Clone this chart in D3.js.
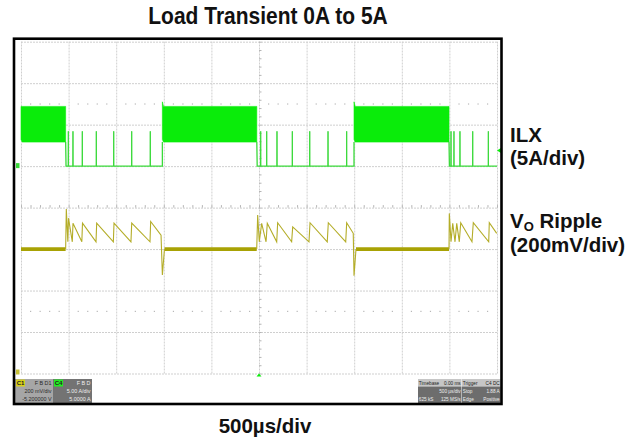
<!DOCTYPE html>
<html><head><meta charset="utf-8">
<script src="https://cdn.jsdelivr.net/npm/d3@7"></script>
<style>
body{margin:0;background:#fff}
svg{display:block}
text{font-family:"Liberation Sans",Arial,Helvetica,sans-serif}
</style>
</head><body>
<svg id="chart" width="641" height="443"></svg>
<script>
// ---------------- DATA ----------------
const titleText = "Load Transient 0A to 5A";
const xAxisLabel = "500µs/div";
const ilxLabel = ["ILX", "(5A/div)"];
const voLabel = ["V", "O", " Ripple", "(200mV/div)"];

const timePerDiv = 500;      // µs per division
const divsX = 10, divsY = 8;
const ampPerDiv = 5;         // A per division (C4, ILX)
const ampTop = 15;           // A at top graticule line
const mvPerDiv = 200;        // mV per division (C1, Vo ripple, AC view)
const mvTop = 1000;          // mV at top graticule line

// ILX: heavy-load (5 A) intervals, µs
const ilxHighStart = [0, 1485, 3498];
const ilxHighEnd   = [469, 2477, 4496];
const ilxHighUpper = [7.2, 7.2, 7.2];    // A, top of ripple band
const ilxHighLower = [2.9, 2.9, 2.9];    // A, bottom of ripple band
const ilxEdgeOvershoot = [7.2, 7.75, 7.75]; // A at start of band
// ILX: light-load (0 A) intervals and their switching pulses
const ilxLowStart = [469, 2477, 4496];
const ilxLowEnd   = [1485, 3498, 5000];
const ilxSpikeTimes = [497, 546, 644, 791, 974, 1163, 1358,
                       2518, 2581, 2689, 2850, 3033, 3225, 3421,
                       4517, 4548, 4611, 4745, 4909];
const ilxSpikePeaks = [4.2, 4.2, 4.2, 4.2, 4.2, 4.2, 4.2,
                       4.2, 4.2, 4.2, 4.2, 4.2, 4.2, 4.2,
                       4.2, 4.2, 4.2, 4.2, 4.2];

// Vo ripple: flat (heavy load) segments, µs
const voFlatStart = [0, 1507, 3519];
const voFlatEnd   = [469, 2476, 4496];
// Vo ripple during light load: [µs, mV]
const voLight1 = [[469,0],[476,193],[492,35],[499,149],[539,35],[546,125],[639,35],[646,125],
  [788,35],[795,125],[970,35],[977,125],[1155,35],[1163,125],[1355,35],[1362,133],
  [1471,67],[1485,-125],[1507,0]];
const voLight2 = [[2476,0],[2486,164],[2503,35],[2528,124],[2574,35],[2587,124],[2686,35],[2696,127],
  [2843,35],[2854,107],[3025,35],[3036,127],[3217,35],[3228,127],[3411,35],[3421,127],
  [3490,76],[3498,-129],[3519,0]];
const voLight3 = [[4496,0],[4499,172],[4517,35],[4535,124],[4559,35],[4577,124],[4604,35],[4619,127],
  [4737,35],[4751,127],[4913,35],[4919,127],[4997,76]];

// Scope readout texts
const c1Box = ["C1", "F B D1", "200 mV/div", "-5.200000 V"];
const c4Box = ["C4", "F B D", "5.00 A/div", "5.0000 A"];
const tbBox = ["Timebase", "0.00 ms", "", "500 µs/div", "625 kS", "125 MS/s"];
const trBox = ["Trigger", "C4 DC", "Stop", "1.88 A", "Edge", "Positive"];
const triggerLevel = 1.88;   // A

// ---------------- DRAW ----------------
const svg = d3.select("#chart");
const gx0 = 21, gx1 = 497, gy0 = 41.7, gy1 = 373.5;

const x = d3.scaleLinear().domain([0, divsX * timePerDiv]).range([gx0, gx1]);
const yI = d3.scaleLinear().domain([ampTop - divsY * ampPerDiv, ampTop]).range([gy1, gy0]);
const yV = d3.scaleLinear().domain([mvTop - divsY * mvPerDiv, mvTop]).range([gy1, gy0]);

const GREEN = "#0aec0a", GREEN_T = "#3ada3a";
const YEL = "#a8a204", YEL_T = "#b4ad28";

// Title
svg.append("text").attr("x", 268).attr("y", 24).attr("text-anchor", "middle")
  .attr("font-size", 21).attr("font-weight", "bold").attr("fill", "#111")
  .attr("transform", "translate(0,24) scale(1,1.12) translate(0,-24)")
  .text(titleText);

// Graticule
const grid = svg.append("g");
grid.append("g").attr("transform", `translate(0,${gy1})`)
  .call(d3.axisBottom(x).tickValues(d3.range(0, divsX * timePerDiv + 1, timePerDiv))
    .tickSize(-(gy1 - gy0)).tickFormat(""));
grid.append("g").attr("transform", `translate(${gx0},0)`)
  .call(d3.axisLeft(yI).tickValues(d3.range(ampTop - divsY * ampPerDiv, ampTop + 1, ampPerDiv))
    .tickSize(-(gx1 - gx0)).tickFormat(""));
grid.selectAll(".domain").remove();
grid.selectAll("line").attr("stroke", "#cfcfcf").attr("stroke-width", 1)
  .attr("stroke-dasharray", "2,1");

// center-line minor ticks
const yCenter = yI(ampTop - divsY * ampPerDiv / 2);
const xCenter = x(divsX * timePerDiv / 2);
const ct = svg.append("g");
ct.append("g").attr("transform", `translate(0,${yCenter})`)
  .call(d3.axisTop(x).tickValues(d3.range(0, divsX * timePerDiv + 1, timePerDiv / 5)).tickSize(2.5).tickFormat(""));
ct.append("g").attr("transform", `translate(${xCenter},0)`)
  .call(d3.axisRight(yI).tickValues(d3.range(ampTop - divsY * ampPerDiv, ampTop + 0.1, ampPerDiv / 5)).tickSize(2.5).tickFormat(""));
ct.selectAll(".domain").remove();
ct.selectAll("line").attr("stroke", "#b5b5b5");

// dotted rows
const dotLevels = [ampTop - 1.5 * ampPerDiv, ampTop - 6.5 * ampPerDiv];
const dotTimes = d3.range(0, divsX * timePerDiv, timePerDiv / 5).filter(t => t % timePerDiv !== 0);
dotLevels.forEach(a => {
  svg.append("g").selectAll("rect").data(dotTimes).join("rect")
    .attr("x", d => x(d) - 0.5).attr("y", yI(a) - 0.5).attr("width", 1.2).attr("height", 1.2)
    .attr("fill", "#b8b8b8");
});

// ILX trace: heavy-load bands
const lineI = d3.line().x(d => x(d[0])).y(d => yI(d[1]));
ilxHighStart.forEach((s, i) => {
  const e = ilxHighEnd[i];
  const poly = [[s, ilxEdgeOvershoot[i]], [s + 12, ilxHighUpper[i]], [e, ilxHighUpper[i]],
                [e, ilxHighLower[i]], [s + 12, ilxHighLower[i]], [s, ilxHighLower[i] + 0.3]];
  svg.append("path").attr("d", lineI(poly) + "Z").attr("fill", GREEN).attr("stroke", GREEN).attr("stroke-width", 0.6);
});
// ILX light-load baseline + edges
ilxLowStart.forEach((s, i) => {
  const e = ilxLowEnd[i];
  const pts = [[s, ilxHighLower[i]], [s + 4, 0], [e, 0]];
  if (i < ilxHighStart.length - 1) pts.push([e, ilxHighLower[i + 1]]);
  svg.append("path").attr("d", lineI(pts)).attr("fill", "none").attr("stroke", GREEN_T).attr("stroke-width", 1.3);
});
// switching pulses
svg.append("g").selectAll("path").data(ilxSpikeTimes).join("path")
  .attr("d", (t, i) => lineI([[t - 2, 0], [t, ilxSpikePeaks[i]], [t + 2, 0]]))
  .attr("fill", "none").attr("stroke", GREEN_T).attr("stroke-width", 1);

// Vo trace
const lineV = d3.line().x(d => x(d[0])).y(d => yV(d[1]));
voFlatStart.forEach((s, i) => {
  svg.append("path").attr("d", lineV([[s, 0], [voFlatEnd[i], 0]]))
    .attr("stroke", YEL).attr("stroke-width", 3.6).attr("fill", "none");
});
[voLight1, voLight2, voLight3].forEach(seg => {
  svg.append("path").attr("d", lineV(seg)).attr("fill", "none")
    .attr("stroke", YEL_T).attr("stroke-width", 1.1).attr("stroke-linejoin", "miter");
});

// channel markers
svg.append("rect").attr("x", 16).attr("y", yI(0) - 3).attr("width", 3.5).attr("height", 5).attr("fill", GREEN_T);
svg.append("rect").attr("x", 16).attr("y", gy1 - 4).attr("width", 3.5).attr("height", 5).attr("fill", "#c8c23a");
svg.append("path").attr("d", `M${gx1 + 4},${yI(triggerLevel) - 2.5}L${gx1},${yI(triggerLevel)}L${gx1 + 4},${yI(triggerLevel) + 2.5}Z`).attr("fill", GREEN);
svg.append("path").attr("d", `M${xCenter - 2.5},${gy1 + 3}L${xCenter},${gy1}L${xCenter + 2.5},${gy1 + 3}Z`).attr("fill", GREEN);

// readout boxes
function box(x0, w, fill, tag, tagFill, lines, txtFill) {
  const g = svg.append("g");
  g.append("rect").attr("x", x0).attr("y", 379).attr("width", w).attr("height", 24).attr("fill", fill);
  g.append("rect").attr("x", x0 + 1).attr("y", 379.5).attr("width", 9).attr("height", 7).attr("fill", tagFill);
  g.append("text").attr("x", x0 + 5.5).attr("y", 385.3).attr("text-anchor", "middle").attr("font-size", 6).attr("font-weight", "bold").attr("fill", "#222").text(tag);
  g.append("text").attr("x", x0 + w - 1.5).attr("y", 385.3).attr("text-anchor", "end").attr("font-size", 5.4).attr("fill", txtFill).text(lines[0]);
  g.append("text").attr("x", x0 + w - 1.5).attr("y", 393).attr("text-anchor", "end").attr("font-size", 5.4).attr("fill", txtFill).text(lines[1]);
  g.append("text").attr("x", x0 + w - 1.5).attr("y", 400.5).attr("text-anchor", "end").attr("font-size", 5.4).attr("fill", txtFill).text(lines[2]);
}
box(15, 38, "#a6a6a6", c1Box[0], "#d6cf1c", c1Box.slice(1), "#2a2a2a");
box(53, 39, "#737373", c4Box[0], "#22ee22", c4Box.slice(1), "#eeeeee");

function box2(x0, w, t) {
  const g = svg.append("g");
  g.append("rect").attr("x", x0).attr("y", 379).attr("width", w).attr("height", 7.5).attr("fill", "#c6c6c6");
  g.append("rect").attr("x", x0).attr("y", 386.5).attr("width", w).attr("height", 16.5).attr("fill", "#6d6d6d");
  const fs = 4.7;
  g.append("text").attr("x", x0 + 0.8).attr("y", 384.8).attr("font-size", fs).attr("fill", "#222").text(t[0]);
  g.append("text").attr("x", x0 + w - 0.8).attr("y", 384.8).attr("text-anchor", "end").attr("font-size", fs).attr("fill", "#222").text(t[1]);
  g.append("text").attr("x", x0 + 0.8).attr("y", 393).attr("font-size", fs).attr("fill", "#eee").text(t[2]);
  g.append("text").attr("x", x0 + w - 0.8).attr("y", 393).attr("text-anchor", "end").attr("font-size", fs).attr("fill", "#eee").text(t[3]);
  g.append("text").attr("x", x0 + 0.8).attr("y", 400.5).attr("font-size", fs).attr("fill", "#eee").text(t[4]);
  g.append("text").attr("x", x0 + w - 0.8).attr("y", 400.5).attr("text-anchor", "end").attr("font-size", fs).attr("fill", "#eee").text(t[5]);
}
box2(418, 43.5, tbBox);
box2(462, 38.5, trBox);

// scope frame
svg.append("rect").attr("x", 14).attr("y", 38.7).attr("width", 487.5).attr("height", 365.3)
  .attr("fill", "none").attr("stroke", "#000").attr("stroke-width", 2.6);

// right labels
const lab = svg.append("g").attr("font-weight", "bold").attr("fill", "#111");
lab.append("text").attr("x", 510).attr("y", 141.5).attr("font-size", 20.5).text(ilxLabel[0]);
lab.append("text").attr("x", 510).attr("y", 164.5).attr("font-size", 20.5).text(ilxLabel[1]);
const vt = lab.append("text").attr("x", 510).attr("y", 228).attr("font-size", 20.5);
vt.append("tspan").text(voLabel[0]);
vt.append("tspan").attr("font-size", 13).attr("dy", 2.5).text(voLabel[1]);
vt.append("tspan").attr("dy", -2.5).text(voLabel[2]);
lab.append("text").attr("x", 510).attr("y", 252).attr("font-size", 20.5).text(voLabel[3]);

// x label
svg.append("text").attr("x", 265).attr("y", 433).attr("text-anchor", "middle")
  .attr("font-size", 20.5).attr("font-weight", "bold").attr("fill", "#111").text(xAxisLabel);
</script>
</body></html>
